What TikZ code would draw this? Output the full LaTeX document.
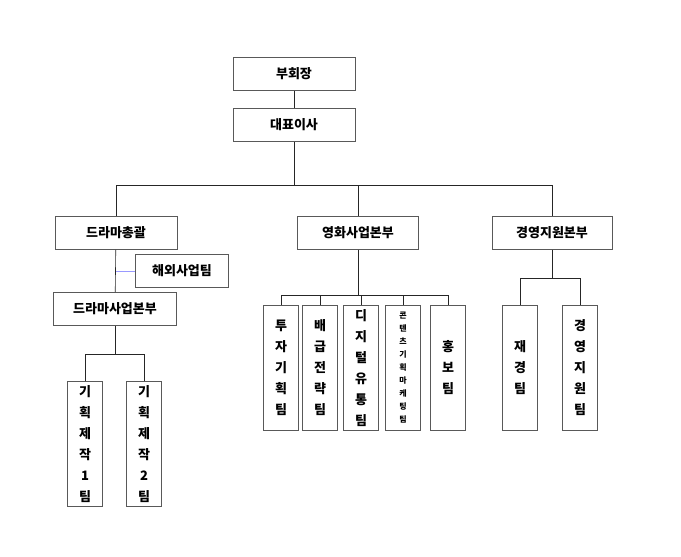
\documentclass[tikz,border=0pt]{standalone}
\usepackage{fontspec}
\setmainfont{Noto Sans CJK KR}
\usetikzlibrary{positioning}
\tikzset{box/.style={draw=gray!70!black,semithick,minimum height=33pt,font=\bfseries\fontsize{13}{15}\selectfont},
  vbox/.style={draw=gray!70!black,semithick,minimum width=35pt,minimum height=125pt,align=center,font=\bfseries\fontsize{13}{21}\selectfont},
  link/.style={semithick,black!85}}
\begin{document}
\begin{tikzpicture}[x=1pt,y=-1pt]
\useasboundingbox (0,0) rectangle (681,557);
%top
\node[box,minimum width=122pt] (vice) at (294,74) {부회장};
\node[box,minimum width=122pt] (ceo) at (294,125) {대표이사};
%divisions
\node[box,minimum width=122pt] (drama) at (116,233) {드라마총괄};
\node[box,minimum width=121pt] (movie) at (358,233) {영화사업본부};
\node[box,minimum width=120pt] (mgmt) at (552,233) {경영지원본부};
\node[box,minimum width=93pt] (overseas) at (182,271) {해외사업팀};
\node[box,minimum width=123pt] (dramabiz) at (115,309) {드라마사업본부};
%teams
\node[vbox,minimum height=125pt] (plan1) at (85,444) {기\\획\\제\\작\\1\\팀};
\node[vbox,minimum height=125pt] (plan2) at (144,444) {기\\획\\제\\작\\2\\팀};
\node[vbox] (invest) at (281,368) {투\\자\\기\\획\\팀};
\node[vbox] (distrib) at (320,368) {배\\급\\전\\략\\팀};
\node[vbox] (digital) at (361,368) {디\\지\\털\\유\\통\\팀};
\node[vbox,font=\bfseries\fontsize{8}{13}\selectfont] (content) at (403,368) {콘\\텐\\츠\\기\\획\\마\\케\\팅\\팀};
\node[vbox] (pr) at (448,368) {홍\\보\\팀};
\node[vbox] (finance) at (520,368) {재\\경\\팀};
\node[vbox] (support) at (580,368) {경\\영\\지\\원\\팀};
%connectors
\coordinate (hub) at (294,185);
\draw[link] (vice) -- (ceo);
\draw[link] (ceo) -- (hub) -| (drama);
\draw[link] (hub) -| (movie);
\draw[link] (hub) -| (mgmt);
\draw[link] (drama) -- (dramabiz);
\draw[semithick,blue!40] (overseas.west) -- (overseas.west -| drama);
\coordinate (dhub) at (115,354);
\draw[link] (dramabiz) -- (dhub) -| (plan1);
\draw[link] (dhub) -| (plan2);
\coordinate (mhub) at (358,295);
\draw[link] (movie) -- (mhub);
\foreach \t in {invest,distrib,digital,content,pr}
  \draw[link] (mhub) -| (\t);
\coordinate (ghub) at (552,278);
\draw[link] (mgmt) -- (ghub);
\foreach \t in {finance,support}
  \draw[link] (ghub) -| (\t);
\end{tikzpicture}
\end{document}
